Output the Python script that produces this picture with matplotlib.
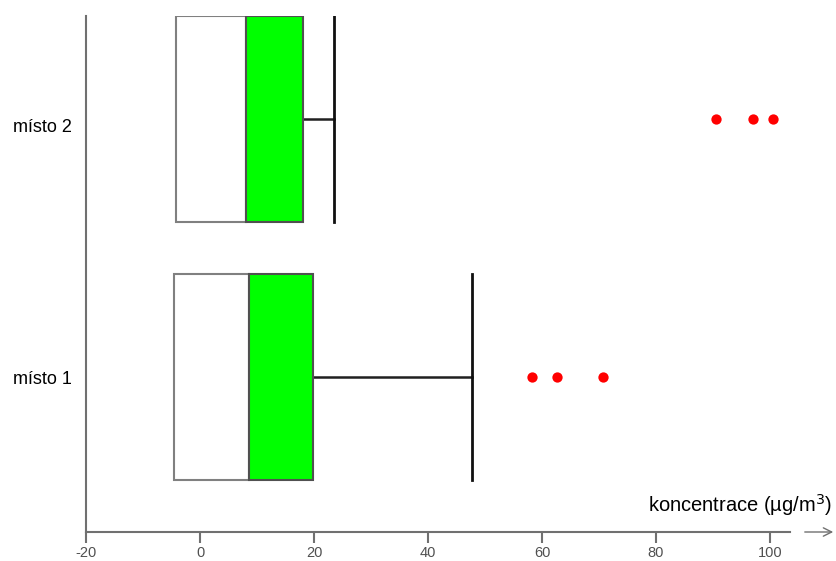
import matplotlib
matplotlib.use("Agg")
import matplotlib.pyplot as plt
import matplotlib.transforms as mtransforms

plt.rcParams['font.family'] = ['Liberation Sans', 'DejaVu Sans']

categories = ["místo 1", "místo 2"]
q1 = [-4.6, -4.2]
median = [8.6, 8.1]
q3 = [19.8, 18.1]
whisker_hi = [47.7, 23.5]
outliers = [[58.2, 62.6, 70.7], [90.5, 97.0, 100.5]]
xticks = [-20, 0, 20, 40, 60, 80, 100]

fig = plt.figure(figsize=(8.36, 5.61), dpi=100)
ax = fig.add_axes([86/836, 1-532/561, (790-86)/836, (532-16)/561])
ax.set_xlim(-20, 103.5)
ax.set_ylim(0.4, 2.4)

pos = [1, 2]
h = 0.8
for i, p in enumerate(pos):
    ax.plot([q3[i], whisker_hi[i]], [p, p], color='#202020', lw=1.8, zorder=2)
    ax.plot([whisker_hi[i], whisker_hi[i]], [p - h/2, p + h/2], color='#101010', lw=2, zorder=2)
    ax.barh(p, median[i] - q1[i], left=q1[i], height=h, color='white',
            edgecolor='#808080', lw=1.5, zorder=3)
    ax.barh(p, q3[i] - median[i], left=median[i], height=h, color='#00ff00',
            edgecolor='#505050', lw=1.5, zorder=3)
    ax.scatter(outliers[i], [p] * len(outliers[i]), s=55, color='#ff0000',
               zorder=4, linewidths=0)

ax.set_yticks(pos)
ax.set_yticklabels(categories, fontsize=13, color='black')
ax.tick_params(axis='y', length=0, pad=10)
labs = ax.get_yticklabels()
labs[1].set_transform(labs[1].get_transform() +
                      mtransforms.ScaledTranslation(0, -6/100, fig.dpi_scale_trans))

ax.set_xticks(xticks)
ax.set_xticklabels([str(t) for t in xticks], fontsize=10.5, color='#505050')
ax.tick_params(axis='x', length=8, width=1.5, color='#707070', pad=2)

for s in ['top', 'right']:
    ax.spines[s].set_visible(False)
for s in ['left', 'bottom']:
    ax.spines[s].set_color('#707070')
    ax.spines[s].set_linewidth(1.5)

fig.text(832/836, 1-505/561, r'koncentrace (µg/m$^3$)', ha='right', va='center',
         fontsize=14.5, color='black')
fig.add_artist(matplotlib.patches.FancyArrowPatch(
    (802/836, 1-532/561), (836/836, 1-532/561), transform=fig.transFigure,
    arrowstyle='->,head_length=6,head_width=3', color='#707070', lw=1))

fig.savefig('out.png', dpi=100)
